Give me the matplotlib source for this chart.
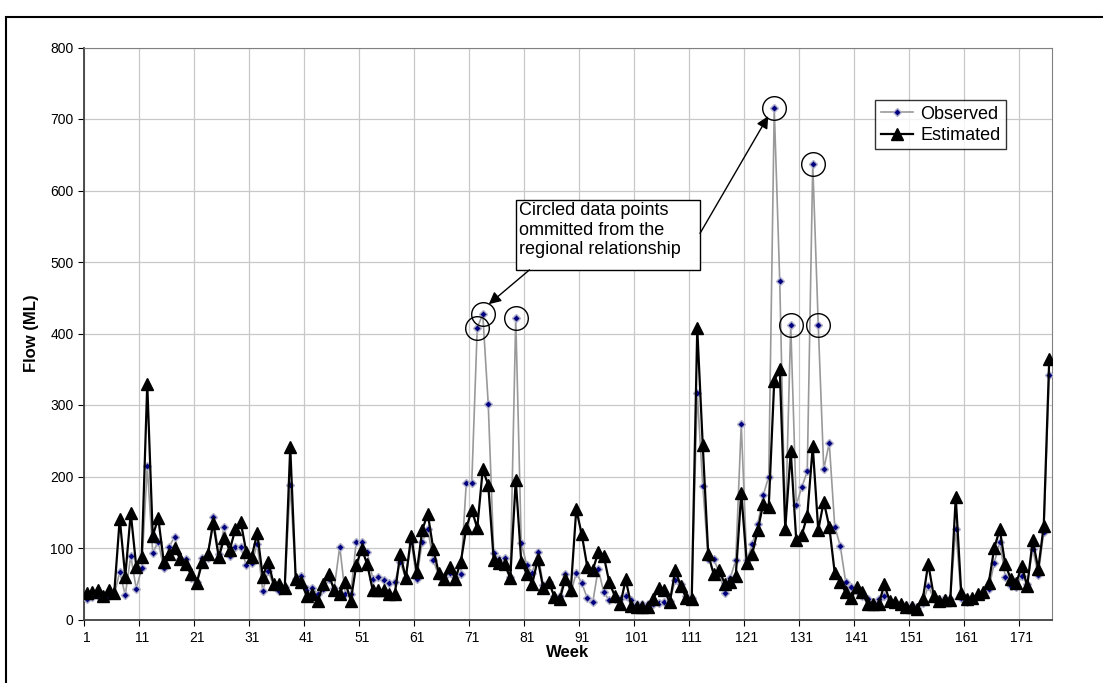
import matplotlib
matplotlib.use("Agg")
import matplotlib.pyplot as plt
from matplotlib.patches import Rectangle
import numpy as np

plt.rcParams['font.family'] = ['Liberation Sans', 'DejaVu Sans']

# weekly flow (ML), weeks 1..176
observed = [
    29, 32, 33, 30, 33, 34, 67, 34, 89, 43,
    72, 214, 93, 109, 72, 102, 116, 85, 85, 58,
    52, 86, 86, 143, 92, 130, 89, 101, 101, 76,
    79, 106, 40, 68, 47, 40, 46, 188, 57, 61,
    42, 44, 36, 42, 56, 44, 102, 35, 36, 109,
    108, 94, 57, 60, 55, 51, 52, 80, 58, 109,
    57, 109, 126, 83, 61, 60, 65, 60, 63, 191,
    191, 408, 427, 301, 93, 84, 86, 60, 422, 107,
    76, 65, 94, 48, 53, 33, 33, 63, 37, 65,
    51, 30, 24, 71, 38, 27, 28, 28, 33, 27,
    22, 22, 21, 21, 23, 25, 26, 55, 49, 33,
    30, 317, 187, 85, 85, 65, 37, 58, 83, 273,
    83, 105, 133, 174, 200, 715, 473, 125, 412, 160,
    185, 207, 637, 412, 210, 247, 130, 103, 52, 45,
    40, 33, 28, 24, 28, 33, 25, 24, 22, 20,
    20, 16, 23, 47, 29, 29, 30, 29, 127, 30,
    24, 29, 33, 33, 43, 79, 109, 60, 47, 46,
    61, 50, 99, 62, 123, 342,
]
estimated = [
    37, 38, 41, 33, 41, 37, 141, 60, 149, 74,
    88, 329, 117, 142, 81, 92, 100, 84, 77, 63,
    51, 80, 91, 135, 87, 114, 97, 126, 136, 95,
    88, 121, 60, 81, 49, 50, 44, 241, 56, 52,
    33, 36, 26, 49, 63, 41, 36, 53, 26, 76,
    99, 77, 41, 41, 41, 35, 35, 92, 58, 117,
    66, 125, 148, 99, 65, 56, 73, 57, 80, 128,
    153, 128, 210, 188, 83, 79, 77, 58, 195, 81,
    64, 50, 84, 44, 53, 32, 28, 57, 41, 154,
    119, 74, 69, 94, 89, 52, 33, 21, 56, 19,
    18, 18, 18, 29, 44, 41, 24, 69, 47, 30,
    29, 407, 244, 91, 63, 69, 50, 53, 61, 177,
    79, 92, 125, 162, 158, 334, 350, 127, 235, 111,
    118, 145, 242, 125, 165, 130, 65, 52, 38, 30,
    45, 38, 21, 21, 21, 49, 26, 24, 22, 18,
    18, 15, 28, 78, 33, 26, 27, 27, 171, 37,
    29, 30, 35, 38, 51, 100, 126, 77, 57, 51,
    75, 47, 111, 71, 131, 365,
]
# weeks whose observed value was left out of the regional relationship
omitted_weeks = [72, 73, 79, 126, 129, 133, 134]

weeks = np.arange(1, len(observed) + 1)
xpos = weeks - 0.5  # categories sit between tick marks

fig = plt.figure(figsize=(11.03, 6.83), dpi=100)
# outer chart border
fig.patches.append(Rectangle((6 / 1103, -0.1), 1.2, (683 - 17) / 683 + 0.1,
                             transform=fig.transFigure, fill=False,
                             edgecolor="black", lw=1.5))
ax = fig.add_axes([84 / 1103, (683 - 619.5) / 683, 968 / 1103, 572 / 683])

ax.plot(xpos, observed, color="#999999", lw=1.2, marker="D", ms=4.5,
        mfc="#000080", mec="#b0b0c8", mew=1.0, label="Observed", zorder=3)
ax.plot(xpos, estimated, color="black", lw=1.6, marker="^", ms=8,
        mfc="black", mec="black", label="Estimated", zorder=4)

obs = np.array(observed)
idx = np.array(omitted_weeks) - 1
ax.plot(xpos[idx], obs[idx], ls="none", marker="o", ms=17, mfc="none",
        mec="black", mew=1.0, zorder=5)

ax.set_xlim(0, len(observed))
ax.set_ylim(0, 800)
ax.set_yticks(np.arange(0, 801, 100))
ax.set_xticks(np.arange(0, 171, 10))
ax.set_xticks(np.arange(0, 171, 10) + 0.5, minor=True)
ax.set_xticklabels([])
ax.set_xticklabels([str(w) for w in range(1, 172, 10)], minor=True)
ax.tick_params(axis="x", which="minor", length=0, labelsize=10, pad=8)
ax.tick_params(axis="x", which="major", length=4, direction="out")
ax.tick_params(axis="y", labelsize=10, length=4)
ax.grid(True, which="major", color="#c8c8c8", lw=0.9)
ax.set_axisbelow(True)
for s in ["top", "right"]:
    ax.spines[s].set_color("#808080")
for s in ["left", "bottom"]:
    ax.spines[s].set_color("#404040")
    ax.spines[s].set_linewidth(1.3)

ax.set_xlabel("Week", fontsize=12, fontweight="bold", labelpad=0)
ax.set_ylabel("Flow (ML)", fontsize=12, fontweight="bold", labelpad=8)

leg = ax.legend(loc="upper right", bbox_to_anchor=(0.9525, 0.908), fontsize=13,
                frameon=True, fancybox=False, edgecolor="black",
                handlelength=1.8, handletextpad=0.4, borderpad=0.3,
                labelspacing=0.25, borderaxespad=0)
leg.get_frame().set_linewidth(1.0)

# annotation text box
ax.add_patch(Rectangle((78.5, 489), 33.5, 98, fill=True, fc="white", ec="black",
                       lw=1.0, zorder=6))
ax.text(79.1, 584, "Circled data points\nommitted from the\nregional relationship",
        fontsize=13, va="top", ha="left", linespacing=1.2, zorder=7)
ax.annotate("", xy=(73.6, 441), xytext=(81, 489),
            arrowprops=dict(arrowstyle="-|>", color="black", lw=1.0,
                            mutation_scale=18, shrinkA=0, shrinkB=0), zorder=6)
ax.annotate("", xy=(124.4, 704), xytext=(112, 540),
            arrowprops=dict(arrowstyle="-|>", color="black", lw=1.0,
                            mutation_scale=18, shrinkA=0, shrinkB=0), zorder=6)

fig.savefig("out.png", dpi=100)
